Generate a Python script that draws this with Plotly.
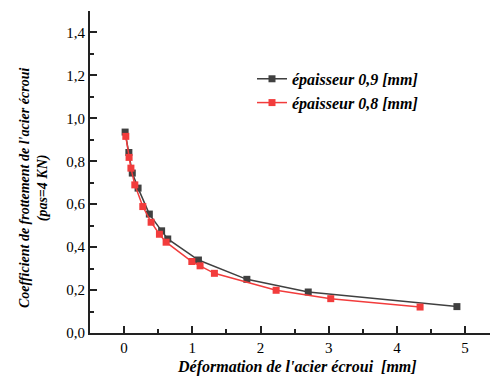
import plotly.graph_objects as go

# Data
x_09 = [0.015, 0.07, 0.12, 0.205, 0.37, 0.55, 0.64, 1.09, 1.80, 2.70, 4.88]
y_09 = [0.936, 0.841, 0.745, 0.675, 0.554, 0.476, 0.438, 0.340, 0.250, 0.191, 0.123]

x_08 = [0.025, 0.073, 0.10, 0.157, 0.274, 0.396, 0.518, 0.616, 0.993, 1.114, 1.324, 2.229, 3.03, 4.34]
y_08 = [0.916, 0.818, 0.768, 0.690, 0.589, 0.516, 0.460, 0.423, 0.333, 0.313, 0.278, 0.199, 0.160, 0.121]

name_09 = "épaisseur 0,9 [mm]"
name_08 = "épaisseur 0,8 [mm]"
x_title = "Déformation de l'acier écroui  [mm]"
y_title = "Coefficient de frottement de l'acier écroui<br>(pas=4 KN)"

TICK_FONT = "Liberation Serif"
BI_FONT = "Nimbus Roman"

fig = go.Figure()
fig.add_trace(go.Scatter(
    x=x_09, y=y_09, name="<b><i>" + name_09 + "</i></b>", mode="lines+markers",
    line=dict(color="#404040", width=1.5),
    marker=dict(symbol="square", size=7, color="#404040"),
))
fig.add_trace(go.Scatter(
    x=x_08, y=y_08, name="<b><i>" + name_08 + "</i></b>", mode="lines+markers",
    line=dict(color="#f23c3c", width=1.5),
    marker=dict(symbol="square", size=7, color="#f23c3c"),
))

axis_common = dict(
    showline=True, linecolor="#222", linewidth=2, ticks="inside",
    tickcolor="#222", tickwidth=1.5, ticklen=7, showgrid=False, zeroline=False,
    tickfont=dict(family=TICK_FONT, size=15, color="black"),
)
fig.update_xaxes(
    range=[-0.5, 5.365], dtick=1, tick0=0,
    minor=dict(dtick=0.5, ticks="inside", ticklen=4, tickcolor="#222", tickwidth=1.5),
    **axis_common,
)
fig.update_yaxes(
    range=[0, 1.5], dtick=0.2, tick0=0, tickformat=".1f",
    minor=dict(dtick=0.1, ticks="inside", ticklen=4, tickcolor="#222", tickwidth=1.5),
    **axis_common,
)
# Axis titles as annotations (bold italic serif)
fig.add_annotation(
    x=0.5175, y=-0.1056, xref="paper", yref="paper", showarrow=False,
    xanchor="center", yanchor="middle",
    text="<b><i>" + x_title + "</i></b>",
    font=dict(family=BI_FONT, size=16, color="black"),
)
fig.add_annotation(
    x=-0.14, y=0.45, xref="paper", yref="paper", showarrow=False,
    xanchor="center", yanchor="middle", textangle=-90,
    text="<b><i>" + y_title + "</i></b>",
    font=dict(family=BI_FONT, size=14, color="black"),
)
fig.update_layout(
    width=490, height=377, separators=", ",
    margin=dict(l=90, r=0, t=11, b=44),
    plot_bgcolor="white", paper_bgcolor="white",
    showlegend=True,
    legend=dict(x=0.405, y=0.842, xanchor="left", yanchor="top",
                bgcolor="rgba(0,0,0,0)", tracegroupgap=0,
                font=dict(family=BI_FONT, size=16, color="black")),
)
fig.write_html("out.html")
